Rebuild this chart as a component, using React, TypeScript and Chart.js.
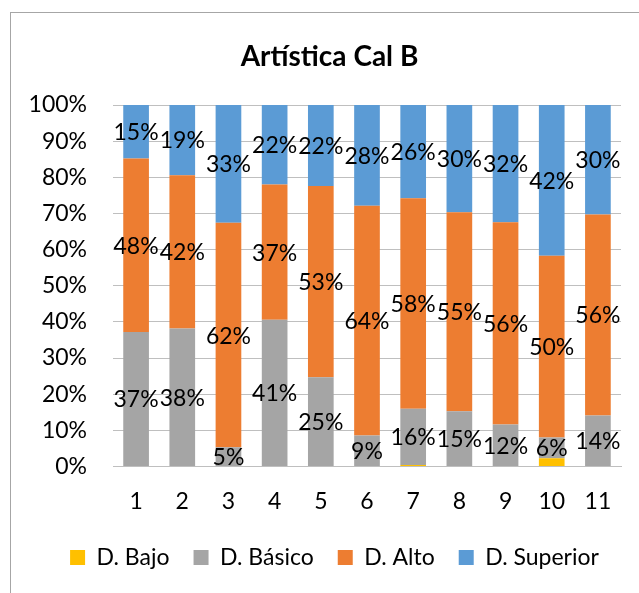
import React, { useEffect, useRef } from 'react';
import { Chart, registerables } from 'chart.js';

Chart.register(...registerables);

const FONT = 'Lato';

const categories = ['1', '2', '3', '4', '5', '6', '7', '8', '9', '10', '11'];
const seriesNames = ['D. Bajo', 'D. Básico', 'D. Alto', 'D. Superior'];
const bajo = [0, 0, 0, 0, 0, 0, 0.4, 0, 0, 2.3, 0];
const basico = [37.2, 38.2, 5.3, 40.6, 24.7, 8.6, 15.6, 15.3, 11.6, 5.7, 14.1];
const alto = [48.0, 42.4, 62.1, 37.4, 52.9, 63.5, 58.2, 55.0, 56.0, 50.3, 55.6];
const superior = [14.8, 19.4, 32.6, 22.0, 22.4, 27.9, 25.8, 29.7, 32.4, 41.7, 30.3];
const yTicks = [0, 10, 20, 30, 40, 50, 60, 70, 80, 90, 100];
const colors = ['#FFC000', '#A5A5A5', '#ED7D31', '#5B9BD5'];

export default function App() {
  const ref = useRef<HTMLCanvasElement>(null);

  useEffect(() => {
    if (!ref.current) return;

    const segLabels = {
      id: 'segLabels',
      afterDatasetsDraw(chart: any) {
        const ctx = chart.ctx;
        ctx.save();
        ctx.font = `23px ${FONT}`;
        ctx.fillStyle = '#000000';
        ctx.textAlign = 'center';
        ctx.textBaseline = 'middle';
        chart.data.datasets.forEach((ds: any, i: number) => {
          if (i === 0) return;
          const meta = chart.getDatasetMeta(i);
          meta.data.forEach((bar: any, j: number) => {
            const v = ds.data[j];
            if (!v) return;
            const p = bar.getProps(['x', 'y', 'base'], true);
            ctx.fillText(Math.round(v) + '%', p.x, (p.y + p.base) / 2 + 1);
          });
        });
        ctx.restore();
      },
    };

    const blockShift = {
      id: 'blockShift',
      afterLayout(chart: any) {
        const l = chart.legend;
        if (l) {
          l.left += 24;
          l.right += 24;
        }
        const t = chart.titleBlock;
        if (t) {
          t.left += 19;
          t.right += 19;
        }
      },
    };

    const chart = new Chart(ref.current, {
      type: 'bar',
      data: {
        labels: categories,
        datasets: [bajo, basico, alto, superior].map((d, i) => ({
          label: seriesNames[i],
          data: d,
          backgroundColor: colors[i],
          borderWidth: 0,
          barPercentage: 0.556,
          categoryPercentage: 1,
        })),
      },
      options: {
        responsive: false,
        animation: false,
        layout: { padding: { left: 0, right: 18, top: 0, bottom: 14 } },
        plugins: {
          title: {
            display: true,
            text: 'Artística Cal B',
            color: '#000000',
            font: { family: FONT, size: 28, weight: 'bold' },
            padding: { top: 40, bottom: 31.4 },
          },
          legend: {
            position: 'bottom',
            labels: {
              color: '#000000',
              font: { family: FONT, size: 23 },
              boxWidth: 15,
              boxHeight: 15,
              padding: 24,
            },
          },
          tooltip: { enabled: false },
        },
        scales: {
          x: {
            stacked: true,
            grid: { display: false, drawTicks: false },
            border: { color: '#BFBFBF', width: 1 },
            ticks: { color: '#000000', font: { family: FONT, size: 23 }, padding: 21 },
            afterFit(s: any) {
              s.height = 55.5;
            },
          },
          y: {
            stacked: true,
            min: 0,
            max: 100,
            grid: { color: '#BFBFBF', lineWidth: 1, drawTicks: false },
            border: { display: false },
            afterBuildTicks(s: any) {
              s.ticks = yTicks.map((v) => ({ value: v }));
            },
            ticks: {
              color: '#000000',
              font: { family: FONT, size: 23 },
              padding: 26,
              callback: (v: any) => v + '%',
            },
            afterFit(s: any) {
              s.width = 113;
            },
          },
        },
      },
      plugins: [segLabels, blockShift],
    });

    return () => chart.destroy();
  }, []);

  return (
    <div style={{ position: 'fixed', left: 0, top: 0, width: 639, height: 593, background: '#fff' }}>
      <canvas ref={ref} width={639} height={593} style={{ position: 'absolute', left: 0, top: 0 }} />
      <div
        style={{
          position: 'absolute',
          left: 10,
          top: 12,
          width: 640,
          height: 600,
          borderLeft: '1.5px solid #A6A6A6',
          borderTop: '1.5px solid #A6A6A6',
          pointerEvents: 'none',
        }}
      />
    </div>
  );
}
